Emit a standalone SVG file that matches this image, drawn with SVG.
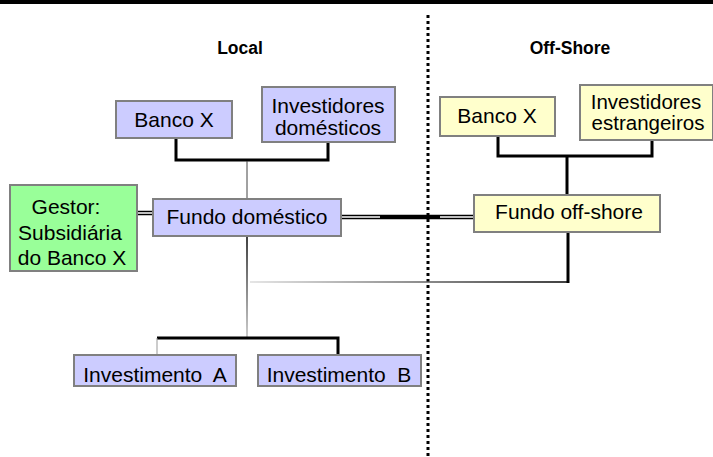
<svg xmlns="http://www.w3.org/2000/svg" width="713" height="457" viewBox="0 0 713 457">
<defs>
<linearGradient id="hg" gradientUnits="userSpaceOnUse" x1="250" y1="0" x2="568" y2="0">
<stop offset="0" stop-color="#ddd"/><stop offset="1" stop-color="#000"/>
</linearGradient>
<linearGradient id="vg" gradientUnits="userSpaceOnUse" x1="0" y1="236" x2="0" y2="337">
<stop offset="0" stop-color="#000"/><stop offset="1" stop-color="#bbb"/>
</linearGradient>
</defs>
<style>
.box{stroke:#808080;stroke-width:2}
.loc{fill:#ccccff}
.off{fill:#ffffcc}
.ges{fill:#99ff99}
.t{font-family:"Liberation Sans",Arial,sans-serif;font-size:21px;fill:#000;text-anchor:middle}
.h{font-family:"Liberation Sans",Arial,sans-serif;font-size:17.5px;font-weight:bold;fill:#000;text-anchor:middle}
.thick{stroke:#000;stroke-width:3;fill:none}
.dbl{stroke:#000;stroke-width:1.5}
.grey{stroke:#999;stroke-width:1;fill:none}
</style>
<rect x="0" y="0" width="713" height="4" fill="#000"/>
<line x1="428" y1="15" x2="428" y2="457" stroke="#000" stroke-width="3" stroke-dasharray="3,3"/>
<text class="h" x="240" y="54">Local</text>
<text class="h" x="570" y="54">Off-Shore</text>
<g id="connectors">
  <polyline class="thick" points="176,138 176,160 328,160 328,142"/>
  <line stroke="#444" stroke-width="1" x1="247" y1="161" x2="247" y2="199"/>
  <polyline class="thick" points="498,136 498,156 652,156 652,140"/>
  <line class="thick" x1="567" y1="156" x2="567" y2="195"/>
  <line class="dbl" x1="341" y1="215.5" x2="474" y2="215.5"/>
  <line class="dbl" x1="341" y1="218.5" x2="474" y2="218.5"/>
  <line stroke="#000" stroke-width="4" x1="380" y1="217" x2="440" y2="217"/>
  <line class="dbl" x1="137" y1="211.5" x2="153" y2="211.5"/>
  <line class="dbl" x1="137" y1="214.5" x2="153" y2="214.5"/>
  <line stroke="url(#vg)" stroke-width="1.5" x1="247" y1="236" x2="247" y2="337"/>
  <line class="thick" x1="568" y1="232" x2="568" y2="283"/>
  <line stroke="url(#hg)" stroke-width="1.5" x1="250" y1="282" x2="568" y2="282"/>
  <polyline class="thick" points="157,338 338,338 338,355"/>
  <line class="grey" x1="157" y1="338" x2="157" y2="355"/>
</g>
<g id="banco-x-local"><rect class="box loc" x="116" y="101" width="116" height="37"/><text class="t" x="174" y="127">Banco X</text></g>
<g id="investidores-domesticos"><rect class="box loc" x="262" y="87" width="133" height="55"/><text class="t" x="328" y="113">Investidores</text><text class="t" x="328" y="135">domésticos</text></g>
<g id="fundo-domestico"><rect class="box loc" x="153" y="199" width="188" height="37"/><text class="t" x="247" y="224">Fundo doméstico</text></g>
<g id="gestor"><rect class="box ges" x="10" y="185" width="127" height="86"/><text class="t" x="66" y="214">Gestor:</text><text class="t" x="70" y="240">Subsidiária</text><text class="t" x="72" y="265">do Banco X</text></g>
<g id="banco-x-offshore"><rect class="box off" x="440" y="97" width="115" height="39"/><text class="t" x="497" y="123">Banco X</text></g>
<g id="investidores-estrangeiros"><rect class="box off" x="580" y="85" width="133" height="55"/><text class="t" x="646" y="109" style="font-size:20.5px">Investidores</text><text class="t" x="648" y="130" style="font-size:20.5px">estrangeiros</text></g>
<g id="fundo-offshore"><rect class="box off" x="474" y="195" width="186" height="37"/><text class="t" x="569" y="219">Fundo off-shore</text></g>
<g id="investimento-a"><rect class="box loc" x="74" y="355" width="162" height="31"/><text class="t" x="155" y="382" xml:space="preserve">Investimento  A</text></g>
<g id="investimento-b"><rect class="box loc" x="258" y="355" width="163" height="31"/><text class="t" x="339" y="382" xml:space="preserve">Investimento  B</text></g>
</svg>
